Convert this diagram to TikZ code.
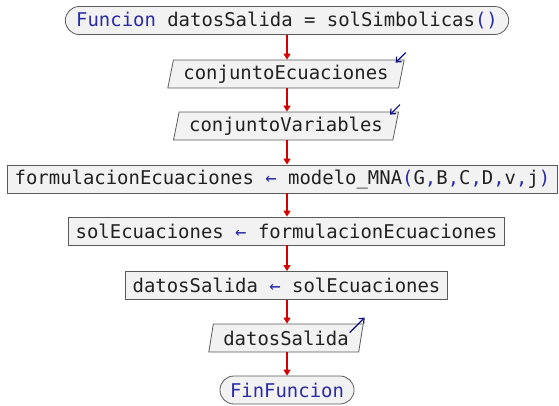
\documentclass[tikz,border=0pt]{standalone}
\usepackage{fontspec}
\setmonofont{DejaVu Sans Mono}
\usetikzlibrary{arrows.meta,shapes.misc,shapes.geometric}
\definecolor{kw}{HTML}{2B2BA8}
\definecolor{ico}{HTML}{101080}
\definecolor{flow}{HTML}{D40000}
\definecolor{edge}{HTML}{5A5A5A}
\definecolor{boxfill}{HTML}{F2F2F2}
\definecolor{txt}{HTML}{222222}
\newcommand{\kwd}[1]{\textcolor{kw}{#1}}
\tikzset{
  base/.style={draw=edge, fill=boxfill, line width=0.8bp, minimum height=28bp, inner ysep=0pt,
    font=\ttfamily\fontsize{19}{19}\selectfont, text=txt},
  term/.style={base, rounded rectangle, inner xsep=8bp},
  proc/.style={base, rectangle, inner xsep=7bp},
  io/.style={base, trapezium, trapezium left angle=73, trapezium right angle=107, trapezium stretches=true, inner xsep=10bp},
  flowarrow/.style={draw=flow, line width=1.4bp, -{Triangle[length=6bp,width=7bp]}, color=flow},
  iconarrow/.style={draw=ico, line width=1.2bp, -{Straight Barb[length=4bp,width=7bp]}},
}
\begin{document}
\begin{tikzpicture}[x=1bp,y=-1bp]
\useasboundingbox (0,0) rectangle (559,405);
\node[term] (start) at (287,20.5) {\kwd{Funcion} datosSalida = solSimbolicas\kwd{()}};
\node[io] (e1) at (286,74) {conjuntoEcuaciones};
\node[io] (e2) at (286,126) {conjuntoVariables};
\node[proc] (f) at (282.5,179) {formulacionEcuaciones \kwd{←} modelo\_MNA\kwd{(}G\kwd{,}B\kwd{,}C\kwd{,}D\kwd{,}v\kwd{,}j\kwd{)}};
\node[proc] (s) at (286.5,231) {solEcuaciones \kwd{←} formulacionEcuaciones};
\node[proc] (d) at (286.5,285.5) {datosSalida \kwd{←} solEcuaciones};
\node[io] (o) at (286,338) {datosSalida};
\node[term] (fin) at (287,390) {\kwd{FinFuncion}};
\coordinate (axis) at (287,0);

\draw[flowarrow] (start.south) -- (e1.north -| axis);
\draw[flowarrow] (e1.south -| axis) -- (e2.north -| axis);
\draw[flowarrow] (e2.south -| axis) -- (f.north -| axis);
\draw[flowarrow] (f.south -| axis) -- (s.north -| axis);
\draw[flowarrow] (s.south -| axis) -- (d.north -| axis);
\draw[flowarrow] (d.south -| axis) -- (o.north -| axis);
\draw[flowarrow] (o.south -| axis) -- (fin.north);

\coordinate (c1) at ([xshift=1bp,yshift=7bp]e1.top right corner);
\coordinate (c2) at ([xshift=1bp,yshift=7bp]e2.top right corner);
\draw[iconarrow] (c1) -- ++(-10,10);
\draw[iconarrow] (c2) -- ++(-10,10);
\coordinate (c3) at ([xshift=-14bp,yshift=-9bp]o.top right corner);
\draw[iconarrow] (c3) -- ++(15,-15);
\end{tikzpicture}
\end{document}
